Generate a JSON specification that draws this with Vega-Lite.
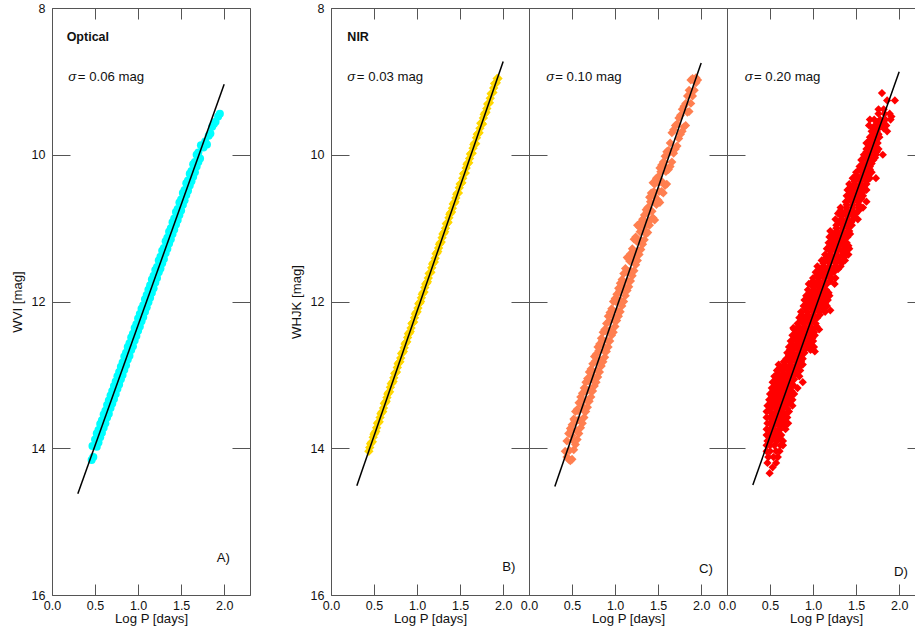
{"$schema":"https://vega.github.io/schema/vega-lite/v6.json","padding":{"left":10,"top":2,"right":0,"bottom":6},"spacing":81,"bounds":"flush","background":"white",
"config":{"view":{"stroke":null},"font":"Liberation Sans","axis":{"domainColor":"#555","tickColor":"#555","domainWidth":1,"tickWidth":1,"grid":false,"labelColor":"#111","titleColor":"#111","labelFontSize":12.5,"titleFontSize":13.2,"titleFontWeight":"normal"},"text":{"fontSize":13.2,"align":"left","color":"#111"}},
"datasets":{
"lineA":[{"p":0.3,"m":14.62},{"p":2.0,"m":9.04}],
"lineB":[{"p":0.3,"m":14.51},{"p":2.0,"m":8.73}],
"lineC":[{"p":0.3,"m":14.52},{"p":2.0,"m":8.75}],
"lineD":[{"p":0.3,"m":14.5},{"p":2.0,"m":8.87}],
"a":[{"p":0.46,"m":14.16},{"p":0.47,"m":13.97},{"p":0.48,"m":14.12},{"p":0.5,"m":13.88},{"p":0.52,"m":13.98},{"p":0.54,"m":13.75},{"p":0.56,"m":13.85},{"p":0.58,"m":13.62},{"p":0.6,"m":13.72},{"p":0.62,"m":13.49},{"p":0.64,"m":13.58},{"p":0.66,"m":13.35},{"p":0.68,"m":13.45},{"p":0.7,"m":13.22},{"p":0.72,"m":13.33},{"p":0.74,"m":13.09},{"p":0.76,"m":13.19},{"p":0.78,"m":12.96},{"p":0.8,"m":13.06},{"p":0.82,"m":12.83},{"p":0.84,"m":12.93},{"p":0.86,"m":12.7},{"p":0.88,"m":12.79},{"p":0.9,"m":12.57},{"p":0.92,"m":12.66},{"p":0.94,"m":12.44},{"p":0.96,"m":12.53},{"p":0.98,"m":12.31},{"p":1.0,"m":12.4},{"p":1.02,"m":12.17},{"p":1.04,"m":12.27},{"p":1.06,"m":12.05},{"p":1.08,"m":12.14},{"p":1.1,"m":11.91},{"p":1.12,"m":12.01},{"p":1.14,"m":11.78},{"p":1.16,"m":11.88},{"p":1.18,"m":11.65},{"p":1.2,"m":11.74},{"p":1.22,"m":11.53},{"p":1.24,"m":11.6},{"p":1.26,"m":11.39},{"p":1.28,"m":11.48},{"p":1.3,"m":11.27},{"p":1.32,"m":11.34},{"p":1.34,"m":11.13},{"p":1.36,"m":11.21},{"p":1.38,"m":11.0},{"p":1.4,"m":11.08},{"p":1.42,"m":10.87},{"p":1.44,"m":10.95},{"p":1.46,"m":10.74},{"p":1.48,"m":10.82},{"p":1.5,"m":10.61},{"p":1.52,"m":10.68},{"p":1.54,"m":10.48},{"p":1.56,"m":10.55},{"p":1.58,"m":10.35},{"p":1.6,"m":10.42},{"p":1.62,"m":10.22},{"p":1.64,"m":10.3},{"p":1.66,"m":10.1},{"p":1.68,"m":10.16},{"p":1.7,"m":9.97},{"p":1.72,"m":10.05},{"p":1.73,"m":9.87},{"p":1.76,"m":9.9},{"p":1.78,"m":9.82},{"p":1.8,"m":9.86},{"p":1.82,"m":9.74},{"p":1.84,"m":9.71},{"p":1.86,"m":9.62},{"p":1.88,"m":9.58},{"p":1.9,"m":9.55},{"p":1.93,"m":9.48},{"p":1.95,"m":9.44},
{"p":0.54,"m":13.92},{"p":0.58,"m":13.79},{"p":0.62,"m":13.66},{"p":0.66,"m":13.53},{"p":0.7,"m":13.39},{"p":0.74,"m":13.26},{"p":0.78,"m":13.13},{"p":0.82,"m":13.0},{"p":0.86,"m":12.87},{"p":0.9,"m":12.74},{"p":0.94,"m":12.61},{"p":0.98,"m":12.47},{"p":1.02,"m":12.34},{"p":1.06,"m":12.21},{"p":1.1,"m":12.08},{"p":1.14,"m":11.95},{"p":1.18,"m":11.82},{"p":1.22,"m":11.68},{"p":1.26,"m":11.55},{"p":1.3,"m":11.42},{"p":1.34,"m":11.28},{"p":1.38,"m":11.15},{"p":1.42,"m":11.02},{"p":1.46,"m":10.89},{"p":1.5,"m":10.76},{"p":1.54,"m":10.62},{"p":1.58,"m":10.49},{"p":1.62,"m":10.36},{"p":1.66,"m":10.24},{"p":1.7,"m":10.1},
{"p":0.52,"m":13.8},{"p":0.56,"m":13.67},{"p":0.6,"m":13.54},{"p":0.64,"m":13.41},{"p":0.68,"m":13.28},{"p":0.72,"m":13.15},{"p":0.76,"m":13.02},{"p":0.8,"m":12.89},{"p":0.84,"m":12.75},{"p":0.88,"m":12.62},{"p":0.92,"m":12.49},{"p":0.96,"m":12.36},{"p":1.0,"m":12.23},{"p":1.04,"m":12.1},{"p":1.08,"m":11.97},{"p":1.12,"m":11.84},{"p":1.16,"m":11.7},{"p":1.2,"m":11.57},{"p":1.24,"m":11.44},{"p":1.28,"m":11.31},{"p":1.32,"m":11.18},{"p":1.36,"m":11.05},{"p":1.4,"m":10.92},{"p":1.44,"m":10.78},{"p":1.48,"m":10.65},{"p":1.52,"m":10.52},{"p":1.56,"m":10.39},{"p":1.6,"m":10.26},{"p":1.64,"m":10.13},{"p":1.68,"m":10.0}],
"b":[{"p":0.44,"m":14.04},{"p":0.46,"m":13.94},{"p":0.48,"m":13.91},{"p":0.5,"m":13.81},{"p":0.52,"m":13.77},{"p":0.54,"m":13.66},{"p":0.56,"m":13.64},{"p":0.58,"m":13.53},{"p":0.6,"m":13.5},{"p":0.62,"m":13.39},{"p":0.64,"m":13.36},{"p":0.66,"m":13.26},{"p":0.68,"m":13.23},{"p":0.7,"m":13.12},{"p":0.72,"m":13.09},{"p":0.74,"m":12.98},{"p":0.76,"m":12.96},{"p":0.78,"m":12.85},{"p":0.8,"m":12.82},{"p":0.82,"m":12.71},{"p":0.84,"m":12.68},{"p":0.86,"m":12.58},{"p":0.88,"m":12.55},{"p":0.9,"m":12.44},{"p":0.92,"m":12.41},{"p":0.94,"m":12.3},{"p":0.96,"m":12.28},{"p":0.98,"m":12.17},{"p":1.0,"m":12.14},{"p":1.02,"m":12.03},{"p":1.04,"m":12.0},{"p":1.06,"m":11.9},{"p":1.08,"m":11.87},{"p":1.1,"m":11.76},{"p":1.12,"m":11.73},{"p":1.14,"m":11.62},{"p":1.16,"m":11.6},{"p":1.18,"m":11.49},{"p":1.2,"m":11.46},{"p":1.22,"m":11.35},{"p":1.24,"m":11.32},{"p":1.26,"m":11.22},{"p":1.28,"m":11.19},{"p":1.3,"m":11.08},{"p":1.32,"m":11.05},{"p":1.34,"m":10.94},{"p":1.36,"m":10.92},{"p":1.38,"m":10.81},{"p":1.4,"m":10.78},{"p":1.42,"m":10.67},{"p":1.44,"m":10.64},{"p":1.46,"m":10.54},{"p":1.48,"m":10.52},{"p":1.5,"m":10.4},{"p":1.52,"m":10.38},{"p":1.54,"m":10.26},{"p":1.56,"m":10.25},{"p":1.58,"m":10.13},{"p":1.6,"m":10.11},{"p":1.62,"m":9.99},{"p":1.64,"m":9.98},{"p":1.66,"m":9.86},{"p":1.68,"m":9.85},{"p":1.7,"m":9.72},{"p":1.72,"m":9.7},{"p":1.74,"m":9.57},{"p":1.76,"m":9.58},{"p":1.78,"m":9.45},{"p":1.8,"m":9.42},{"p":1.82,"m":9.31},{"p":1.84,"m":9.29},{"p":1.86,"m":9.17},{"p":1.88,"m":9.15},{"p":1.9,"m":9.03},{"p":1.92,"m":9.02},{"p":1.94,"m":8.96},
{"p":0.45,"m":13.99},{"p":0.47,"m":13.92},{"p":0.49,"m":13.85},{"p":0.51,"m":13.79},{"p":0.53,"m":13.72},{"p":0.55,"m":13.65},{"p":0.57,"m":13.58},{"p":0.59,"m":13.51},{"p":0.61,"m":13.45},{"p":0.63,"m":13.38},{"p":0.65,"m":13.31},{"p":0.67,"m":13.24},{"p":0.69,"m":13.17},{"p":0.71,"m":13.11},{"p":0.73,"m":13.04},{"p":0.75,"m":12.97},{"p":0.77,"m":12.9},{"p":0.79,"m":12.83},{"p":0.81,"m":12.77},{"p":0.83,"m":12.7},{"p":0.85,"m":12.63},{"p":0.87,"m":12.56},{"p":0.89,"m":12.49},{"p":0.91,"m":12.43},{"p":0.93,"m":12.36},{"p":0.95,"m":12.29},{"p":0.97,"m":12.22},{"p":0.99,"m":12.15},{"p":1.01,"m":12.09},{"p":1.03,"m":12.02},{"p":1.05,"m":11.95},{"p":1.07,"m":11.88},{"p":1.09,"m":11.81},{"p":1.11,"m":11.75},{"p":1.13,"m":11.68},{"p":1.15,"m":11.61},{"p":1.17,"m":11.54},{"p":1.19,"m":11.47},{"p":1.21,"m":11.41},{"p":1.23,"m":11.34},{"p":1.25,"m":11.27},{"p":1.27,"m":11.2},{"p":1.29,"m":11.13},{"p":1.31,"m":11.07},{"p":1.33,"m":11.0},{"p":1.35,"m":10.93},{"p":1.37,"m":10.86},{"p":1.39,"m":10.79},{"p":1.41,"m":10.73},{"p":1.43,"m":10.66},{"p":1.45,"m":10.59},{"p":1.47,"m":10.52},{"p":1.49,"m":10.45},{"p":1.51,"m":10.39},{"p":1.53,"m":10.32},{"p":1.55,"m":10.25},{"p":1.57,"m":10.18},{"p":1.59,"m":10.11},{"p":1.61,"m":10.05},{"p":1.63,"m":9.98},{"p":1.65,"m":9.91},{"p":1.67,"m":9.84},{"p":1.69,"m":9.77},{"p":1.71,"m":9.71},{"p":1.73,"m":9.64},{"p":1.75,"m":9.57},{"p":1.77,"m":9.5},{"p":1.79,"m":9.43},{"p":1.81,"m":9.37},{"p":1.83,"m":9.3},{"p":1.85,"m":9.23},{"p":1.87,"m":9.16},{"p":1.89,"m":9.09},{"p":1.91,"m":9.03},{"p":1.93,"m":8.96}],
"c":[{"p":0.42,"m":14.04},{"p":0.44,"m":14.12},{"p":0.44,"m":13.9},{"p":0.46,"m":14.15},{"p":0.46,"m":13.8},{"p":0.48,"m":14.17},{"p":0.48,"m":13.73},{"p":0.5,"m":14.15},{"p":0.5,"m":13.68},{"p":0.52,"m":14.02},{"p":0.52,"m":13.6},{"p":0.54,"m":13.95},{"p":0.54,"m":13.5},{"p":0.56,"m":13.88},{"p":0.56,"m":13.47},{"p":0.58,"m":13.8},{"p":0.58,"m":13.38},{"p":0.6,"m":13.72},{"p":0.6,"m":13.3},{"p":0.62,"m":13.66},{"p":0.62,"m":13.25},{"p":0.64,"m":13.58},{"p":0.64,"m":13.18},{"p":0.66,"m":13.5},{"p":0.66,"m":13.1},{"p":0.68,"m":13.44},{"p":0.68,"m":13.05},{"p":0.7,"m":13.36},{"p":0.7,"m":12.96},{"p":0.72,"m":13.3},{"p":0.72,"m":12.92},{"p":0.74,"m":13.22},{"p":0.74,"m":12.85},{"p":0.76,"m":13.15},{"p":0.76,"m":12.75},{"p":0.78,"m":13.1},{"p":0.78,"m":12.72},{"p":0.8,"m":13.03},{"p":0.8,"m":12.62},{"p":0.82,"m":12.96},{"p":0.82,"m":12.58},{"p":0.84,"m":12.88},{"p":0.84,"m":12.5},{"p":0.86,"m":12.82},{"p":0.86,"m":12.42},{"p":0.88,"m":12.76},{"p":0.88,"m":12.38},{"p":0.9,"m":12.68},{"p":0.9,"m":12.3},{"p":0.92,"m":12.62},{"p":0.92,"m":12.2},{"p":0.94,"m":12.54},{"p":0.94,"m":12.15},{"p":0.96,"m":12.46},{"p":0.96,"m":12.1},{"p":0.98,"m":12.42},{"p":0.98,"m":12.0},{"p":1.0,"m":12.34},{"p":1.0,"m":11.96},{"p":1.02,"m":12.26},{"p":1.02,"m":11.9},{"p":1.04,"m":12.2},{"p":1.04,"m":11.82},{"p":1.06,"m":12.14},{"p":1.06,"m":11.75},{"p":1.08,"m":12.06},{"p":1.08,"m":11.7},{"p":1.1,"m":12.0},{"p":1.1,"m":11.62},{"p":1.12,"m":11.92},{"p":1.12,"m":11.55},{"p":1.14,"m":11.85},{"p":1.14,"m":11.4},{"p":1.16,"m":11.8},{"p":1.16,"m":11.42},{"p":1.18,"m":11.72},{"p":1.18,"m":11.35},{"p":1.2,"m":11.65},{"p":1.2,"m":11.28},{"p":1.22,"m":11.58},{"p":1.22,"m":11.15},{"p":1.24,"m":11.5},{"p":1.24,"m":11.12},{"p":1.26,"m":11.44},{"p":1.26,"m":10.96},{"p":1.28,"m":11.36},{"p":1.28,"m":10.98},{"p":1.3,"m":11.29},{"p":1.3,"m":10.92},{"p":1.32,"m":11.22},{"p":1.32,"m":10.88},{"p":1.34,"m":11.16},{"p":1.34,"m":10.82},{"p":1.36,"m":11.08},{"p":1.36,"m":10.75},{"p":1.38,"m":11.06},{"p":1.38,"m":10.72},{"p":1.4,"m":10.96},{"p":1.4,"m":10.58},{"p":1.42,"m":10.88},{"p":1.42,"m":10.52},{"p":1.44,"m":10.86},{"p":1.44,"m":10.38},{"p":1.46,"m":10.89},{"p":1.46,"m":10.4},{"p":1.48,"m":10.68},{"p":1.48,"m":10.32},{"p":1.5,"m":10.62},{"p":1.5,"m":10.3},{"p":1.52,"m":10.65},{"p":1.52,"m":10.18},{"p":1.54,"m":10.5},{"p":1.54,"m":10.14},{"p":1.56,"m":10.52},{"p":1.56,"m":10.1},{"p":1.58,"m":10.42},{"p":1.58,"m":10.02},{"p":1.6,"m":10.4},{"p":1.6,"m":9.96},{"p":1.62,"m":10.2},{"p":1.62,"m":9.94},{"p":1.64,"m":10.16},{"p":1.64,"m":9.84},{"p":1.66,"m":10.1},{"p":1.66,"m":9.7},{"p":1.68,"m":9.98},{"p":1.68,"m":9.66},{"p":1.7,"m":9.92},{"p":1.7,"m":9.6},{"p":1.72,"m":9.88},{"p":1.72,"m":9.58},{"p":1.74,"m":9.78},{"p":1.74,"m":9.5},{"p":1.76,"m":9.72},{"p":1.76,"m":9.46},{"p":1.78,"m":9.68},{"p":1.78,"m":9.38},{"p":1.8,"m":9.62},{"p":1.8,"m":9.34},{"p":1.82,"m":9.6},{"p":1.82,"m":9.3},{"p":1.84,"m":9.42},{"p":1.84,"m":9.2},{"p":1.86,"m":9.41},{"p":1.86,"m":9.12},{"p":1.88,"m":9.3},{"p":1.88,"m":8.98},{"p":1.9,"m":9.2},{"p":1.9,"m":8.96},{"p":1.92,"m":9.12},{"p":1.92,"m":8.98},{"p":1.94,"m":9.02},{"p":1.94,"m":8.95},{"p":1.96,"m":8.98},{"p":0.5,"m":13.83},{"p":0.56,"m":13.62},{"p":0.62,"m":13.42},{"p":0.68,"m":13.21},{"p":0.74,"m":13.01},{"p":0.8,"m":12.81},{"p":0.86,"m":12.6},{"p":0.92,"m":12.4},{"p":0.98,"m":12.2},{"p":1.04,"m":11.99},{"p":1.1,"m":11.79},{"p":1.16,"m":11.59},{"p":1.22,"m":11.38},{"p":1.28,"m":11.18},{"p":1.34,"m":10.98},{"p":1.4,"m":10.77},{"p":1.46,"m":10.57},{"p":1.52,"m":10.37},{"p":1.58,"m":10.16},{"p":1.64,"m":9.96},
{"p":0.47,"m":14.03},{"p":0.49,"m":13.76},{"p":0.51,"m":13.89},{"p":0.53,"m":13.62},{"p":0.55,"m":13.76},{"p":0.57,"m":13.49},{"p":0.59,"m":13.62},{"p":0.61,"m":13.35},{"p":0.63,"m":13.48},{"p":0.65,"m":13.22},{"p":0.67,"m":13.35},{"p":0.69,"m":13.08},{"p":0.71,"m":13.21},{"p":0.73,"m":12.95},{"p":0.75,"m":13.08},{"p":0.77,"m":12.81},{"p":0.79,"m":12.94},{"p":0.81,"m":12.67},{"p":0.83,"m":12.81},{"p":0.85,"m":12.54},{"p":0.87,"m":12.67},{"p":0.89,"m":12.4},{"p":0.91,"m":12.53},{"p":0.93,"m":12.27},{"p":0.95,"m":12.4},{"p":0.97,"m":12.13},{"p":0.99,"m":12.26},{"p":1.01,"m":12.0},{"p":1.03,"m":12.13},{"p":1.05,"m":11.86},{"p":1.07,"m":11.99},{"p":1.09,"m":11.72},{"p":1.11,"m":11.86},{"p":1.13,"m":11.59},{"p":1.15,"m":11.72},{"p":1.17,"m":11.45},{"p":1.19,"m":11.59},{"p":1.21,"m":11.32},{"p":1.23,"m":11.45},{"p":1.25,"m":11.18},{"p":1.27,"m":11.31},{"p":1.29,"m":11.05},{"p":1.31,"m":11.18},{"p":1.33,"m":10.91},{"p":1.35,"m":11.04},{"p":1.37,"m":10.78},{"p":1.39,"m":10.91},{"p":1.41,"m":10.64},{"p":1.43,"m":10.77},{"p":1.45,"m":10.5},{"p":1.47,"m":10.64},{"p":1.49,"m":10.37},{"p":1.51,"m":10.5},{"p":1.53,"m":10.23},{"p":1.55,"m":10.37},{"p":1.57,"m":10.1},{"p":1.59,"m":10.23},{"p":1.61,"m":9.96}],
"d":[{"p":0.495,"m":14.34},{"p":0.53,"m":14.26},{"p":0.47,"m":14.2},{"p":0.57,"m":14.2},{"p":0.48,"m":14.12},{"p":0.54,"m":14.12},{"p":0.59,"m":14.12},{"p":0.46,"m":14.04},{"p":0.5,"m":14.04},{"p":0.57,"m":14.04},{"p":0.61,"m":14.04},{"p":0.46,"m":13.96},{"p":0.5,"m":13.96},{"p":0.55,"m":13.96},{"p":0.62,"m":13.96},{"p":0.65,"m":13.96},{"p":0.47,"m":13.9},{"p":0.51,"m":13.9},{"p":0.58,"m":13.9},{"p":0.65,"m":13.9},{"p":0.46,"m":13.82},{"p":0.49,"m":13.82},{"p":0.56,"m":13.82},{"p":0.63,"m":13.82},{"p":0.46,"m":13.74},{"p":0.5,"m":13.74},{"p":0.55,"m":13.74},{"p":0.62,"m":13.74},{"p":0.68,"m":13.74},{"p":0.47,"m":13.66},{"p":0.51,"m":13.66},{"p":0.58,"m":13.66},{"p":0.65,"m":13.66},{"p":0.71,"m":13.66},{"p":0.46,"m":13.58},{"p":0.5,"m":13.58},{"p":0.56,"m":13.58},{"p":0.63,"m":13.58},{"p":0.7,"m":13.58},{"p":0.46,"m":13.5},{"p":0.5,"m":13.5},{"p":0.57,"m":13.5},{"p":0.64,"m":13.5},{"p":0.72,"m":13.5},{"p":0.47,"m":13.42},{"p":0.53,"m":13.42},{"p":0.6,"m":13.42},{"p":0.67,"m":13.42},{"p":0.76,"m":13.42},{"p":0.49,"m":13.34},{"p":0.55,"m":13.34},{"p":0.62,"m":13.34},{"p":0.69,"m":13.34},{"p":0.76,"m":13.34},{"p":0.5,"m":13.26},{"p":0.57,"m":13.26},{"p":0.64,"m":13.26},{"p":0.71,"m":13.26},{"p":0.78,"m":13.26},{"p":0.52,"m":13.18},{"p":0.58,"m":13.18},{"p":0.65,"m":13.18},{"p":0.72,"m":13.18},{"p":0.82,"m":13.18},{"p":0.53,"m":13.1},{"p":0.6,"m":13.1},{"p":0.67,"m":13.1},{"p":0.74,"m":13.1},{"p":0.88,"m":13.1},{"p":0.55,"m":13.02},{"p":0.62,"m":13.02},{"p":0.69,"m":13.02},{"p":0.76,"m":13.02},{"p":0.84,"m":13.02},{"p":0.58,"m":12.94},{"p":0.64,"m":12.94},{"p":0.71,"m":12.94},{"p":0.78,"m":12.94},{"p":0.85,"m":12.94},{"p":0.6,"m":12.86},{"p":0.67,"m":12.86},{"p":0.74,"m":12.86},{"p":0.81,"m":12.86},{"p":0.88,"m":12.86},{"p":0.69,"m":12.78},{"p":0.75,"m":12.78},{"p":0.82,"m":12.78},{"p":0.88,"m":12.78},{"p":0.7,"m":12.7},{"p":0.77,"m":12.7},{"p":0.84,"m":12.7},{"p":0.9,"m":12.7},{"p":0.73,"m":12.66},{"p":1.02,"m":12.68},{"p":0.72,"m":12.62},{"p":0.79,"m":12.62},{"p":0.86,"m":12.62},{"p":0.93,"m":12.62},{"p":1.01,"m":12.62},{"p":0.74,"m":12.54},{"p":0.81,"m":12.54},{"p":0.88,"m":12.54},{"p":0.95,"m":12.54},{"p":1.0,"m":12.54},{"p":0.76,"m":12.46},{"p":0.83,"m":12.46},{"p":0.9,"m":12.46},{"p":0.97,"m":12.46},{"p":1.02,"m":12.46},{"p":0.78,"m":12.38},{"p":0.85,"m":12.38},{"p":0.92,"m":12.38},{"p":0.99,"m":12.38},{"p":1.07,"m":12.38},{"p":0.77,"m":12.36},{"p":0.82,"m":12.3},{"p":0.89,"m":12.3},{"p":0.96,"m":12.3},{"p":1.03,"m":12.3},{"p":0.84,"m":12.22},{"p":0.91,"m":12.22},{"p":0.98,"m":12.22},{"p":1.05,"m":12.22},{"p":0.86,"m":12.14},{"p":0.93,"m":12.14},{"p":1.0,"m":12.14},{"p":1.07,"m":12.14},{"p":1.14,"m":12.14},{"p":1.2,"m":12.12},{"p":0.89,"m":12.06},{"p":0.96,"m":12.06},{"p":1.03,"m":12.06},{"p":1.1,"m":12.06},{"p":1.16,"m":12.06},{"p":0.9,"m":11.98},{"p":0.97,"m":11.98},{"p":1.04,"m":11.98},{"p":1.11,"m":11.98},{"p":1.17,"m":11.98},{"p":0.92,"m":11.92},{"p":0.99,"m":11.92},{"p":1.06,"m":11.92},{"p":1.13,"m":11.92},{"p":1.19,"m":11.92},{"p":0.94,"m":11.84},{"p":1.01,"m":11.84},{"p":1.08,"m":11.84},{"p":1.15,"m":11.84},{"p":0.95,"m":11.76},{"p":1.02,"m":11.76},{"p":1.09,"m":11.76},{"p":1.16,"m":11.76},{"p":1.25,"m":11.76},{"p":1.0,"m":11.68},{"p":1.07,"m":11.68},{"p":1.14,"m":11.68},{"p":1.21,"m":11.68},{"p":1.26,"m":11.68},{"p":1.03,"m":11.6},{"p":1.1,"m":11.6},{"p":1.17,"m":11.6},{"p":1.24,"m":11.6},{"p":1.05,"m":11.52},{"p":1.12,"m":11.52},{"p":1.19,"m":11.52},{"p":1.26,"m":11.52},{"p":1.32,"m":11.52},{"p":1.1,"m":11.44},{"p":1.17,"m":11.44},{"p":1.24,"m":11.44},{"p":1.31,"m":11.44},{"p":1.37,"m":11.44},{"p":1.14,"m":11.36},{"p":1.2,"m":11.36},{"p":1.27,"m":11.36},{"p":1.34,"m":11.36},{"p":1.41,"m":11.36},{"p":1.16,"m":11.28},{"p":1.23,"m":11.28},{"p":1.3,"m":11.28},{"p":1.37,"m":11.28},{"p":1.42,"m":11.28},{"p":1.18,"m":11.2},{"p":1.25,"m":11.2},{"p":1.32,"m":11.2},{"p":1.39,"m":11.2},{"p":1.19,"m":11.12},{"p":1.26,"m":11.12},{"p":1.33,"m":11.12},{"p":1.4,"m":11.12},{"p":1.2,"m":11.04},{"p":1.28,"m":11.04},{"p":1.35,"m":11.04},{"p":1.42,"m":11.04},{"p":1.27,"m":10.96},{"p":1.34,"m":10.96},{"p":1.4,"m":10.96},{"p":1.45,"m":10.96},{"p":1.26,"m":10.88},{"p":1.33,"m":10.88},{"p":1.4,"m":10.88},{"p":1.47,"m":10.88},{"p":1.52,"m":10.88},{"p":1.29,"m":10.8},{"p":1.36,"m":10.8},{"p":1.43,"m":10.8},{"p":1.5,"m":10.8},{"p":1.32,"m":10.72},{"p":1.39,"m":10.72},{"p":1.46,"m":10.72},{"p":1.53,"m":10.72},{"p":1.58,"m":10.72},{"p":1.38,"m":10.64},{"p":1.45,"m":10.64},{"p":1.52,"m":10.64},{"p":1.62,"m":10.64},{"p":1.39,"m":10.56},{"p":1.46,"m":10.56},{"p":1.53,"m":10.56},{"p":1.58,"m":10.56},{"p":1.4,"m":10.48},{"p":1.47,"m":10.48},{"p":1.54,"m":10.48},{"p":1.62,"m":10.48},{"p":1.42,"m":10.4},{"p":1.49,"m":10.4},{"p":1.56,"m":10.4},{"p":1.62,"m":10.4},{"p":1.46,"m":10.32},{"p":1.53,"m":10.32},{"p":1.6,"m":10.32},{"p":1.66,"m":10.32},{"p":1.73,"m":10.32},{"p":1.5,"m":10.24},{"p":1.57,"m":10.24},{"p":1.63,"m":10.24},{"p":1.68,"m":10.24},{"p":1.54,"m":10.16},{"p":1.6,"m":10.16},{"p":1.66,"m":10.16},{"p":1.56,"m":10.07},{"p":1.63,"m":10.07},{"p":1.7,"m":10.07},{"p":1.59,"m":10.0},{"p":1.66,"m":10.0},{"p":1.73,"m":10.0},{"p":1.81,"m":10.0},{"p":1.62,"m":9.92},{"p":1.69,"m":9.92},{"p":1.76,"m":9.92},{"p":1.62,"m":9.84},{"p":1.69,"m":9.84},{"p":1.75,"m":9.84},{"p":1.66,"m":9.76},{"p":1.71,"m":9.76},{"p":1.77,"m":9.76},{"p":1.68,"m":9.68},{"p":1.74,"m":9.68},{"p":1.86,"m":9.68},{"p":1.65,"m":9.6},{"p":1.72,"m":9.6},{"p":1.79,"m":9.6},{"p":1.85,"m":9.6},{"p":1.66,"m":9.52},{"p":1.71,"m":9.52},{"p":1.78,"m":9.52},{"p":1.84,"m":9.52},{"p":1.9,"m":9.52},{"p":1.76,"m":9.44},{"p":1.83,"m":9.44},{"p":1.89,"m":9.44},{"p":1.91,"m":9.48},{"p":1.76,"m":9.38},{"p":1.82,"m":9.38},{"p":1.86,"m":9.26},{"p":1.95,"m":9.26},{"p":1.8,"m":9.16},
{"p":0.53,"m":13.86},{"p":0.6,"m":13.86},{"p":0.54,"m":13.7},{"p":0.61,"m":13.7},{"p":0.67,"m":13.7},{"p":0.53,"m":13.54},{"p":0.6,"m":13.54},{"p":0.67,"m":13.54},{"p":0.51,"m":13.38},{"p":0.58,"m":13.38},{"p":0.65,"m":13.38},{"p":0.72,"m":13.38},{"p":0.54,"m":13.22},{"p":0.61,"m":13.22},{"p":0.68,"m":13.22},{"p":0.75,"m":13.22},{"p":0.57,"m":13.06},{"p":0.64,"m":13.06},{"p":0.71,"m":13.06},{"p":0.78,"m":13.06},{"p":0.62,"m":12.9},{"p":0.69,"m":12.9},{"p":0.76,"m":12.9},{"p":0.83,"m":12.9},{"p":0.72,"m":12.74},{"p":0.79,"m":12.74},{"p":0.86,"m":12.74},{"p":0.76,"m":12.58},{"p":0.83,"m":12.58},{"p":0.9,"m":12.58},{"p":0.97,"m":12.58},{"p":0.8,"m":12.42},{"p":0.87,"m":12.42},{"p":0.94,"m":12.42},{"p":1.01,"m":12.42},{"p":0.86,"m":12.26},{"p":0.93,"m":12.26},{"p":1.0,"m":12.26},{"p":0.91,"m":12.1},{"p":0.98,"m":12.1},{"p":1.05,"m":12.1},{"p":1.12,"m":12.1},{"p":0.95,"m":11.95},{"p":1.02,"m":11.95},{"p":1.09,"m":11.95},{"p":1.16,"m":11.95},{"p":1.0,"m":11.8},{"p":1.06,"m":11.8},{"p":1.12,"m":11.8},{"p":1.05,"m":11.64},{"p":1.12,"m":11.64},{"p":1.19,"m":11.64},{"p":1.12,"m":11.48},{"p":1.19,"m":11.48},{"p":1.26,"m":11.48},{"p":1.33,"m":11.48},{"p":1.2,"m":11.32},{"p":1.27,"m":11.32},{"p":1.34,"m":11.32},{"p":1.38,"m":11.32},{"p":1.22,"m":11.16},{"p":1.29,"m":11.16},{"p":1.36,"m":11.16},{"p":1.27,"m":11.0},{"p":1.34,"m":11.0},{"p":1.41,"m":11.0},{"p":1.33,"m":10.84},{"p":1.4,"m":10.84},{"p":1.47,"m":10.84},{"p":1.39,"m":10.68},{"p":1.46,"m":10.68},{"p":1.53,"m":10.68},{"p":1.43,"m":10.52},{"p":1.5,"m":10.52},{"p":1.57,"m":10.52},{"p":1.48,"m":10.36},{"p":1.55,"m":10.36},{"p":1.62,"m":10.36},{"p":1.54,"m":10.2},{"p":1.6,"m":10.2},{"p":1.66,"m":10.2},{"p":1.6,"m":10.04},{"p":1.66,"m":10.04},{"p":1.72,"m":10.04},{"p":1.66,"m":9.88},{"p":1.72,"m":9.88},{"p":1.7,"m":9.72},{"p":1.76,"m":9.72},
{"p":0.52,"m":13.78},{"p":0.59,"m":13.78},{"p":0.53,"m":13.62},{"p":0.6,"m":13.62},{"p":0.67,"m":13.62},{"p":0.5,"m":13.46},{"p":0.57,"m":13.46},{"p":0.64,"m":13.46},{"p":0.7,"m":13.46},{"p":0.52,"m":13.3},{"p":0.59,"m":13.3},{"p":0.66,"m":13.3},{"p":0.73,"m":13.3},{"p":0.56,"m":13.14},{"p":0.63,"m":13.14},{"p":0.7,"m":13.14},{"p":0.77,"m":13.14},{"p":0.59,"m":12.98},{"p":0.66,"m":12.98},{"p":0.73,"m":12.98},{"p":0.8,"m":12.98},{"p":0.66,"m":12.82},{"p":0.73,"m":12.82},{"p":0.8,"m":12.82},{"p":0.86,"m":12.82},{"p":0.76,"m":12.66},{"p":0.83,"m":12.66},{"p":0.9,"m":12.66},{"p":0.97,"m":12.66},{"p":0.78,"m":12.5},{"p":0.85,"m":12.5},{"p":0.92,"m":12.5},{"p":0.99,"m":12.5},{"p":0.83,"m":12.34},{"p":0.9,"m":12.34},{"p":0.97,"m":12.34},{"p":1.04,"m":12.34},{"p":0.87,"m":12.18},{"p":0.94,"m":12.18},{"p":1.01,"m":12.18},{"p":1.08,"m":12.18},{"p":0.93,"m":12.02},{"p":1.0,"m":12.02},{"p":1.07,"m":12.02},{"p":1.14,"m":12.02},{"p":0.97,"m":11.88},{"p":1.04,"m":11.88},{"p":1.11,"m":11.88},{"p":1.18,"m":11.88},{"p":1.0,"m":11.72},{"p":1.06,"m":11.72},{"p":1.13,"m":11.72},{"p":1.2,"m":11.72},{"p":1.08,"m":11.56},{"p":1.15,"m":11.56},{"p":1.22,"m":11.56},{"p":1.29,"m":11.56},{"p":1.15,"m":11.4},{"p":1.22,"m":11.4},{"p":1.29,"m":11.4},{"p":1.36,"m":11.4},{"p":1.21,"m":11.24},{"p":1.28,"m":11.24},{"p":1.35,"m":11.24},{"p":1.41,"m":11.24},{"p":1.23,"m":11.08},{"p":1.3,"m":11.08},{"p":1.37,"m":11.08},{"p":1.43,"m":11.08},{"p":1.3,"m":10.92},{"p":1.37,"m":10.92},{"p":1.44,"m":10.92},{"p":1.32,"m":10.76},{"p":1.39,"m":10.76},{"p":1.46,"m":10.76},{"p":1.53,"m":10.76},{"p":1.42,"m":10.6},{"p":1.49,"m":10.6},{"p":1.56,"m":10.6},{"p":1.44,"m":10.44},{"p":1.51,"m":10.44},{"p":1.58,"m":10.44},{"p":1.5,"m":10.28},{"p":1.57,"m":10.28},{"p":1.64,"m":10.28},{"p":1.58,"m":10.12},{"p":1.64,"m":10.12},{"p":1.68,"m":10.12},{"p":1.62,"m":9.96},{"p":1.68,"m":9.96},{"p":1.74,"m":9.96},{"p":1.66,"m":9.8},{"p":1.72,"m":9.8},{"p":1.7,"m":9.64},{"p":1.76,"m":9.64},{"p":1.82,"m":9.64},{"p":1.75,"m":9.56},{"p":1.81,"m":9.56}]
},
"hconcat":[
{"width":198,"height":587,"layer":[
{"data":{"name":"a"},"mark":{"type":"point","filled":true,"shape":"circle","size":64,"opacity":1,"color":"#00FFFF"},"encoding":{"x":{"field":"p","type":"quantitative","scale":{"domain":[0,2.3]},"axis":{"orient":"bottom","values":[0,0.5,1,1.5,2],"format":".1f","tickSize":-11,"labelPadding":15,"title":"Log P [days]","titlePadding":1,"labelFlush":false,"labelOverlap":false}},"y":{"field":"m","type":"quantitative","scale":{"domain":[16,8]},"axis":{"orient":"left","values":[8,10,12,14,16],"tickSize":-18,"labelPadding":25,"title":"WVI [mag]","titlePadding":7,"labelFlush":false,"labelOverlap":false}}}},
{"data":{"name":"lineA"},"mark":{"type":"line","color":"black","strokeWidth":1.5},"encoding":{"x":{"field":"p","type":"quantitative","scale":{"domain":[0,2.3]},"axis":{"orient":"top","values":[0,0.5,1,1.5,2],"labels":false,"title":null,"tickSize":-11}},"y":{"field":"m","type":"quantitative","scale":{"domain":[16,8]},"axis":{"orient":"right","values":[8,10,12,14,16],"labels":false,"title":null,"tickSize":-18}}}},
{"data":{"values":[{"p":0.17,"m":8.39,"t":"Optical"}]},"mark":{"type":"text","fontWeight":"bold","fontSize":12.5},"encoding":{"x":{"field":"p","type":"quantitative","axis":null,"scale":{"domain":[0,2.3]}},"y":{"field":"m","type":"quantitative","axis":null,"scale":{"domain":[16,8]}},"text":{"field":"t"}}},
{"data":{"values":[{"p":0.19,"m":8.945,"t":"σ"}]},"mark":{"type":"text","fontStyle":"italic"},"encoding":{"x":{"field":"p","type":"quantitative","axis":null,"scale":{"domain":[0,2.3]}},"y":{"field":"m","type":"quantitative","axis":null,"scale":{"domain":[16,8]}},"text":{"field":"t"}}},
{"data":{"values":[{"p":0.3,"m":8.945,"t":"= 0.06 mag"},{"p":1.913,"m":15.49,"t":"A)"}]},"mark":{"type":"text"},"encoding":{"x":{"field":"p","type":"quantitative","axis":null,"scale":{"domain":[0,2.3]}},"y":{"field":"m","type":"quantitative","axis":null,"scale":{"domain":[16,8]}},"text":{"field":"t"}}}
],"resolve":{"axis":{"x":"independent","y":"independent"}}},
{"hconcat":[
{"width":198,"height":587,"layer":[
{"data":{"name":"b"},"mark":{"type":"point","filled":true,"shape":"diamond","size":88,"opacity":1,"color":"#FFD700"},"encoding":{"x":{"field":"p","type":"quantitative","scale":{"domain":[0,2.3]},"axis":{"orient":"bottom","values":[0,0.5,1,1.5,2],"format":".1f","tickSize":-11,"labelPadding":15,"title":"Log P [days]","titlePadding":1,"labelFlush":false,"labelOverlap":false}},"y":{"field":"m","type":"quantitative","scale":{"domain":[16,8]},"axis":{"orient":"left","values":[8,10,12,14,16],"tickSize":-18,"labelPadding":25,"title":"WHJK [mag]","titlePadding":7,"labelFlush":false,"labelOverlap":false}}}},
{"data":{"name":"lineB"},"mark":{"type":"line","color":"black","strokeWidth":1.5},"encoding":{"x":{"field":"p","type":"quantitative","scale":{"domain":[0,2.3]},"axis":{"orient":"top","values":[0,0.5,1,1.5,2],"labels":false,"title":null,"tickSize":-11}},"y":{"field":"m","type":"quantitative","scale":{"domain":[16,8]},"axis":{"orient":"right","values":[8,10,12,14,16],"labels":false,"title":null,"tickSize":-18}}}},
{"data":{"values":[{"p":0.19,"m":8.39,"t":"NIR"}]},"mark":{"type":"text","fontWeight":"bold","fontSize":12.5},"encoding":{"x":{"field":"p","type":"quantitative","axis":null,"scale":{"domain":[0,2.3]}},"y":{"field":"m","type":"quantitative","axis":null,"scale":{"domain":[16,8]}},"text":{"field":"t"}}},
{"data":{"values":[{"p":0.19,"m":8.945,"t":"σ"}]},"mark":{"type":"text","fontStyle":"italic"},"encoding":{"x":{"field":"p","type":"quantitative","axis":null,"scale":{"domain":[0,2.3]}},"y":{"field":"m","type":"quantitative","axis":null,"scale":{"domain":[16,8]}},"text":{"field":"t"}}},
{"data":{"values":[{"p":0.3,"m":8.945,"t":"= 0.03 mag"},{"p":1.99,"m":15.62,"t":"B)"}]},"mark":{"type":"text"},"encoding":{"x":{"field":"p","type":"quantitative","axis":null,"scale":{"domain":[0,2.3]}},"y":{"field":"m","type":"quantitative","axis":null,"scale":{"domain":[16,8]}},"text":{"field":"t"}}}
],"resolve":{"axis":{"x":"independent","y":"independent"}}},
{"width":198,"height":587,"layer":[
{"data":{"name":"c"},"mark":{"type":"point","filled":true,"shape":"diamond","size":80,"opacity":1,"color":"#FF7F50"},"encoding":{"x":{"field":"p","type":"quantitative","scale":{"domain":[0,2.3]},"axis":{"orient":"bottom","values":[0,0.5,1,1.5,2],"format":".1f","tickSize":-11,"labelPadding":15,"title":"Log P [days]","titlePadding":1,"labelFlush":false,"labelOverlap":false}},"y":{"field":"m","type":"quantitative","scale":{"domain":[16,8]},"axis":{"orient":"left","values":[8,10,12,14,16],"tickSize":-18,"labels":false,"title":null}}}},
{"data":{"name":"lineC"},"mark":{"type":"line","color":"black","strokeWidth":1.5},"encoding":{"x":{"field":"p","type":"quantitative","scale":{"domain":[0,2.3]},"axis":{"orient":"top","values":[0,0.5,1,1.5,2],"labels":false,"title":null,"tickSize":-11}},"y":{"field":"m","type":"quantitative","scale":{"domain":[16,8]},"axis":{"orient":"right","values":[8,10,12,14,16],"labels":false,"title":null,"tickSize":-18}}}},
{"data":{"values":[{"p":0.2,"m":8.945,"t":"σ"}]},"mark":{"type":"text","fontStyle":"italic"},"encoding":{"x":{"field":"p","type":"quantitative","axis":null,"scale":{"domain":[0,2.3]}},"y":{"field":"m","type":"quantitative","axis":null,"scale":{"domain":[16,8]}},"text":{"field":"t"}}},
{"data":{"values":[{"p":0.305,"m":8.945,"t":"= 0.10 mag"},{"p":1.975,"m":15.64,"t":"C)"}]},"mark":{"type":"text"},"encoding":{"x":{"field":"p","type":"quantitative","axis":null,"scale":{"domain":[0,2.3]}},"y":{"field":"m","type":"quantitative","axis":null,"scale":{"domain":[16,8]}},"text":{"field":"t"}}}
],"resolve":{"axis":{"x":"independent","y":"independent"}}},
{"width":198,"height":587,"layer":[
{"data":{"name":"d"},"mark":{"type":"point","filled":true,"shape":"diamond","size":68,"opacity":1,"color":"#FF0000"},"encoding":{"x":{"field":"p","type":"quantitative","scale":{"domain":[0,2.3]},"axis":{"orient":"bottom","values":[0,0.5,1,1.5,2],"format":".1f","tickSize":-11,"labelPadding":15,"title":"Log P [days]","titlePadding":1,"labelFlush":false,"labelOverlap":false}},"y":{"field":"m","type":"quantitative","scale":{"domain":[16,8]},"axis":{"orient":"left","values":[8,10,12,14,16],"tickSize":-18,"labels":false,"title":null}}}},
{"data":{"name":"lineD"},"mark":{"type":"line","color":"black","strokeWidth":1.5},"encoding":{"x":{"field":"p","type":"quantitative","scale":{"domain":[0,2.3]},"axis":{"orient":"top","values":[0,0.5,1,1.5,2],"labels":false,"title":null,"tickSize":-11}},"y":{"field":"m","type":"quantitative","scale":{"domain":[16,8]},"axis":{"orient":"right","values":[8,10,12,14,16],"labels":false,"title":null,"tickSize":-18}}}},
{"data":{"values":[{"p":0.205,"m":8.945,"t":"σ"}]},"mark":{"type":"text","fontStyle":"italic"},"encoding":{"x":{"field":"p","type":"quantitative","axis":null,"scale":{"domain":[0,2.3]}},"y":{"field":"m","type":"quantitative","axis":null,"scale":{"domain":[16,8]}},"text":{"field":"t"}}},
{"data":{"values":[{"p":0.313,"m":8.945,"t":"= 0.20 mag"},{"p":1.94,"m":15.69,"t":"D)"}]},"mark":{"type":"text"},"encoding":{"x":{"field":"p","type":"quantitative","axis":null,"scale":{"domain":[0,2.3]}},"y":{"field":"m","type":"quantitative","axis":null,"scale":{"domain":[16,8]}},"text":{"field":"t"}}}
],"resolve":{"axis":{"x":"independent","y":"independent"}}}
],"spacing":0,"bounds":"flush"}
]}
